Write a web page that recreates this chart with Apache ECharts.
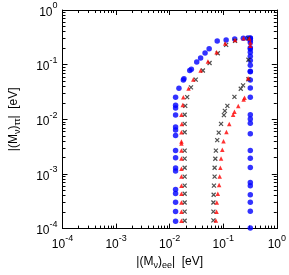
<!DOCTYPE html>
<html><head><meta charset="utf-8">
<script src="https://cdn.jsdelivr.net/npm/echarts@6/dist/echarts.min.js"></script>
<style>html,body{margin:0;padding:0;background:#fff}#c{width:289px;height:275px}</style>
</head><body><div id="c"></div>
<script>
// tick labels (exponents of 10)
const tickExps = ['-4','-3','-2','-1','0'];
const majorTicks = [1e-4, 1e-3, 1e-2, 1e-1, 1];

// blue circles
const blueX = [
 0.0129,0.0129,0.0129,0.0129,0.0129,0.0129,0.0129,0.0129,0.0129,0.0129,0.0129,0.0129,0.0129,0.0129,0.0129,0.0129,
 0.0149,0.0180,0.0185,0.0237,0.0254,0.0320,0.0378,0.0458,0.0546,0.0772,0.1133,0.1637,0.237,0.288,
 0.32,0.32,0.32,0.32,0.32,0.32,0.32,0.32,0.32,0.32,0.32,0.32,0.32,0.32,0.32,0.32,0.32,0.32,0.32,0.32,0.32,0.32,0.32,0.32,0.32,0.32,0.32,0.32
];
const blueY = [
 0.0252,0.01815,0.01604,0.0120,0.0072,0.00637,0.00507,0.00268,0.00197,0.00128,0.00113,0.000518,0.00044,0.000303,0.000205,0.000136,
 0.0370,0.0525,0.0550,0.0781,0.0824,0.112,0.132,0.164,0.1955,0.272,0.283,0.295,0.303,0.307,
 0.307,0.303,0.2796,0.254,0.2037,0.193,0.1685,0.1429,0.1194,0.0972,0.0759,0.0741,0.0525,0.0373,0.0254,0.0121,0.0101,0.00848,0.00546,0.00268,0.00193,0.00131,0.0007,0.000611,0.000417,0.000303,0.000207,0.000103
];
// red triangles
const redX = [
 0.0166,0.01687,0.01757,0.0180,0.0225,0.0276,0.0378,0.0518,0.075,0.1086,0.166,0.2399,0.3073,0.32,0.32,0.291,
 0.0166,0.0166,0.0166,0.0166,0.0166,0.0166,0.0166,0.0166,0.0166,0.0166,0.0166,0.0166,
 0.25,0.2399,0.1905,0.1618,0.1528,0.1296,0.1146,0.1012,0.096,0.091,0.0883,0.0859,0.0837,0.0791,0.0759,0.075,0.0729
];
const redY = [
 0.0121,0.00824,0.0183,0.0254,0.0368,0.0533,0.0781,0.1146,0.1685,0.244,0.283,0.3034,0.2998,0.254,0.221,0.0562,
 0.00579,0.00393,0.00362,0.00268,0.00191,0.00124,0.000895,0.000611,0.000434,0.0003,0.000204,0.000139,
 0.0247,0.0230,0.0176,0.0137,0.0121,0.00824,0.00586,0.00397,0.00276,0.00191,0.0013,0.000895,0.000628,0.000434,0.0003,0.000204,0.000141
];
// black crosses
const blackX = [
 0.01905,0.01905,0.01954,0.02123,0.025,0.0307,0.0417,0.0556,0.0791,0.1133,0.166,0.2951,0.2951,
 0.01905,0.01905,0.01905,0.01905,0.01905,0.01905,0.01905,0.01905,0.01905,0.01905,
 0.2951,0.2344,0.2123,0.1618,0.1194,0.1072,0.1029,0.091,0.0824,0.0772,0.0729,0.0711,0.069,0.069,0.0671,0.0662,0.0655,0.0655,0.0655
];
const blackY = [
 0.0121,0.00824,0.0176,0.0254,0.0384,0.0533,0.0781,0.1072,0.1618,0.2304,0.2716,0.3034,0.1228,
 0.00579,0.00268,0.00191,0.0013,0.000895,0.000611,0.000434,0.0003,0.000204,0.000139,
 0.054,0.0417,0.0362,0.0257,0.0176,0.0143,0.0119,0.00824,0.00569,0.00417,0.00268,0.0019,0.0013,0.000895,0.000611,0.000417,0.0003,0.000204,0.000141
];

const zip = (a, b) => a.map((v, i) => [v, b[i]]);
const minorTicks = [];
for (let d = -4; d < 0; d++) for (let m = 2; m <= 9; m++) minorTicks.push(+(m * Math.pow(10, d)).toPrecision(3));

const FONT = 'Liberation Sans';
const labelRich = {
  b: { fontFamily: FONT, fontSize: 12, color: '#000', lineHeight: 17, verticalAlign: 'bottom' },
  s: { fontFamily: FONT, fontSize: 9, color: '#000', lineHeight: 17, verticalAlign: 'top' }
};
const fmt = v => {
  const e = Math.round(Math.log10(v));
  const idx = majorTicks.findIndex(t => Math.abs(Math.log10(t) - e) < 1e-6);
  return '{b|10}{s|' + tickExps[idx] + '}';
};
const nameRich = {
  b: { fontFamily: FONT, fontSize: 12, color: '#000', lineHeight: 17, verticalAlign: 'top' },
  u: { fontFamily: FONT, fontSize: 9, color: '#000', lineHeight: 17, verticalAlign: 'bottom' }
};

function mkAxis(pos, ticks, len, showLabel, showLine, extra) {
  return Object.assign({
    type: 'log', logBase: 10, min: 1e-4, max: 1, position: pos,
    axisLine: { show: showLine, lineStyle: { color: '#000', width: 1 } },
    axisTick: { show: true, inside: true, length: len, customValues: ticks, lineStyle: { color: '#000', width: 1 } },
    axisLabel: { show: showLabel, customValues: majorTicks, formatter: fmt, rich: labelRich, margin: 5 },
    splitLine: { show: false }, minorTick: { show: false }
  }, extra || {});
}

const chart = echarts.init(document.getElementById('c'), null, { renderer: 'canvas' });
chart.setOption({
  animation: false,
  backgroundColor: '#fff',
  grid: { left: 53, top: 10, width: 224, height: 224, containLabel: false },
  xAxis: [
    mkAxis('bottom', majorTicks, 5, true, true, {
      name: '|(M{u|ν}){u|ee}|  [eV]', nameLocation: 'middle', nameGap: 22,
      nameTextStyle: { rich: nameRich, fontFamily: FONT, fontSize: 12 }
    }),
    mkAxis('bottom', minorTicks, 3, false, false),
    mkAxis('top', majorTicks, 5, false, true),
    mkAxis('top', minorTicks, 3, false, false)
  ],
  yAxis: [
    mkAxis('left', majorTicks, 5, true, true, {
      name: '|(M{u|ν}){u|ττ}|  [eV]', nameLocation: 'middle', nameGap: 40, nameRotate: 90,
      nameTextStyle: { rich: nameRich, fontFamily: FONT, fontSize: 12 }
    }),
    mkAxis('left', minorTicks, 3, false, false),
    mkAxis('right', majorTicks, 5, false, true),
    mkAxis('right', minorTicks, 3, false, false)
  ],
  series: [
    { type: 'scatter', xAxisIndex: 0, yAxisIndex: 0, data: zip(blueX, blueY), symbol: 'circle', symbolSize: 5.5,
      itemStyle: { color: '#0000ff' } },
    { type: 'scatter', xAxisIndex: 0, yAxisIndex: 0, data: zip(blackX, blackY),
      symbol: 'path://M0,0L10,10M10,0L0,10', symbolSize: 4,
      itemStyle: { color: 'rgba(0,0,0,0)', borderColor: '#222', borderWidth: 1.2 } },
    { type: 'scatter', xAxisIndex: 0, yAxisIndex: 0, data: zip(redX, redY), symbol: 'triangle', symbolSize: 4.5,
      itemStyle: { color: '#ff0000' } }
  ]
});
</script></body></html>
